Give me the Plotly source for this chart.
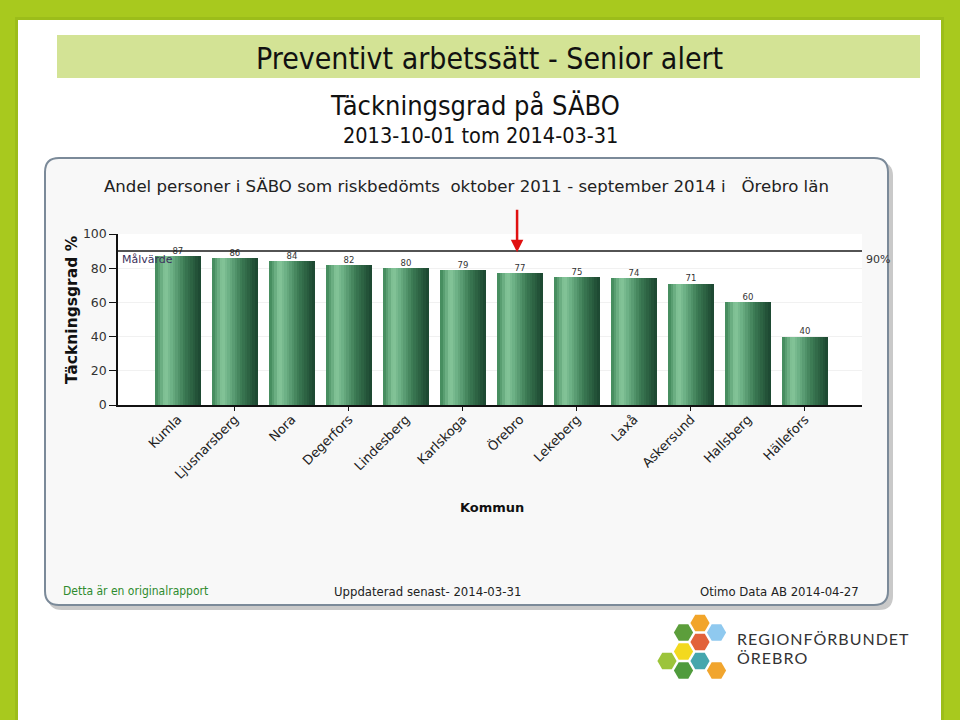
import math
import plotly.graph_objects as go

# ---------------- data ----------------
kommuner = ["Kumla", "Ljusnarsberg", "Nora", "Degerfors", "Lindesberg", "Karlskoga",
            "Örebro", "Lekeberg", "Laxå", "Askersund", "Hallsberg", "Hällefors"]
tackningsgrad = [87, 86, 84, 82, 80, 79, 77, 75, 74, 71, 60, 40]
malvarde = 90
y_ticks = [0, 20, 40, 60, 80, 100]
highlight = "Örebro"

W, H = 960, 720


def px(x):
    return x / W


def py(y):
    return 1 - y / H


def hexcolor_interp(c1, c2, t):
    a = [int(c1[i:i + 2], 16) for i in (1, 3, 5)]
    b = [int(c2[i:i + 2], 16) for i in (1, 3, 5)]
    return "#%02x%02x%02x" % tuple(round(a[k] + (b[k] - a[k]) * t) for k in range(3))


grad_stops = [(0.0, "#3e8658"), (0.22, "#86c69b"), (0.38, "#6aae83"),
              (0.65, "#3b7a53"), (1.0, "#1c4630")]


def grad(t):
    for (p0, c0), (p1, c1) in zip(grad_stops[:-1], grad_stops[1:]):
        if p0 <= t <= p1:
            return hexcolor_interp(c0, c1, (t - p0) / (p1 - p0))
    return grad_stops[-1][1]


idx = list(range(len(kommuner)))
fig = go.Figure()

# gradient bars built from thin overlaid bar stripes
N = 18
bar_w = 0.79
sw = bar_w / N
for i in range(N):
    fig.add_trace(go.Bar(
        x=idx, y=tackningsgrad, width=sw * 1.25, offset=-bar_w / 2 + i * sw,
        marker=dict(color=grad((i + 0.5) / N), line=dict(width=0)),
        hoverinfo="skip", showlegend=False))

# value labels
fig.add_trace(go.Scatter(
    x=idx, y=tackningsgrad, mode="text", text=[str(v) for v in tackningsgrad],
    textposition="top center", textfont=dict(size=8.5, color="#333333", family="DejaVu Sans"),
    showlegend=False, hoverinfo="skip"))

# invisible trace for secondary tick axis
fig.add_trace(go.Scatter(x=[0], y=[0], xaxis="x2", mode="markers",
                         marker=dict(opacity=0), showlegend=False, hoverinfo="skip"))

shapes = []


def rrect(x0, y0, x1, y1, r):
    return ("M {a},{b} L {c},{b} Q {d},{b} {d},{e} L {d},{f} Q {d},{g} {c},{g} "
            "L {a},{g} Q {h},{g} {h},{f} L {h},{e} Q {h},{b} {a},{b} Z").format(
        a=px(x0 + r), b=py(y0), c=px(x1 - r), d=px(x1), e=py(y0 + r),
        f=py(y1 - r), g=py(y1), h=px(x0))


# slide shadow + white slide
shapes.append(dict(type="rect", xref="paper", yref="paper", x0=px(15), x1=px(944),
                   y0=py(722), y1=py(17), fillcolor="#9cbd1a", line=dict(width=0), layer="below"))
shapes.append(dict(type="rect", xref="paper", yref="paper", x0=px(18), x1=px(941),
                   y0=py(721), y1=py(20), fillcolor="#ffffff", line=dict(width=0), layer="below"))
# title band
shapes.append(dict(type="rect", xref="paper", yref="paper", x0=px(57), x1=px(920),
                   y0=py(78), y1=py(35), fillcolor="#d3e395", line=dict(width=0), layer="below"))
# chart box shadow + box
shapes.append(dict(type="path", xref="paper", yref="paper", path=rrect(48, 162, 893, 610, 14),
                   fillcolor="#c9c9c9", line=dict(width=0), layer="below"))
shapes.append(dict(type="path", xref="paper", yref="paper", path=rrect(45, 158, 888, 605, 14),
                   fillcolor="#f8f8f8", line=dict(color="#7b8a99", width=2), layer="below"))
# plot area
shapes.append(dict(type="rect", xref="x domain", yref="y domain", x0=0, x1=1, y0=0, y1=1,
                   fillcolor="#ffffff", line=dict(width=0), layer="below"))
# target line
shapes.append(dict(type="line", xref="x domain", yref="y", x0=0, x1=1, y0=malvarde, y1=malvarde,
                   line=dict(color="#1a1a1a", width=1.5), layer="above"))

# logo hexagons
hex_r = 9.6
hexes = [(700, 623, "#f2a52a"), (716.5, 632.5, "#8fc9ef"), (683.5, 632.5, "#5c9e3b"),
         (700, 642, "#e2623a"), (683.5, 651.5, "#f3d91f"), (700, 661, "#45a6ad"),
         (667, 661, "#9cc43b"), (683.5, 670.5, "#4f9b3c"), (716.5, 670.5, "#f1a52e")]
for cx, cy, col in hexes:
    pts = [(cx + hex_r * math.cos(math.radians(a)), cy + hex_r * math.sin(math.radians(a)))
           for a in range(0, 360, 60)]
    path = "M " + " L ".join("%f,%f" % (px(x), py(y)) for x, y in pts) + " Z"
    shapes.append(dict(type="path", xref="paper", yref="paper", path=path,
                       fillcolor=col, line=dict(width=0), layer="below"))

ann = []
cond = "DejaVu Sans Condensed, Liberation Sans Narrow, Liberation Sans"


def txt(text, x, y, size, color="#111111", family=cond, xanchor="center", **kw):
    ann.append(dict(text=text, x=px(x), y=py(y), xref="paper", yref="paper",
                    xanchor=xanchor, yanchor="middle", showarrow=False,
                    font=dict(family=family, size=size, color=color), **kw))


txt("Preventivt arbetssätt - Senior alert", 489, 58, 30)
txt("Täckningsgrad på SÄBO", 475, 105, 27)
txt("2013-10-01 tom 2014-03-31", 480, 135, 21.5)
txt("Andel personer i SÄBO som riskbedömts\u00a0 oktober 2011 - september 2014 i\u00a0\u00a0 Örebro län",
    466, 187, 16.6, color="#222222", family="DejaVu Sans")
txt("<b>Täckningsgrad %</b>", 72, 310, 15.5, family="DejaVu Sans", textangle=-90)
txt("<b>Kommun</b>", 492, 507, 13, family="DejaVu Sans")
txt("Detta är en originalrapport", 61, 591, 12, color="#2e8b2e", xanchor="left")
txt("Uppdaterad senast- 2014-03-31", 427, 591, 13, color="#222222")
txt("Otimo Data AB 2014-04-27", 861, 591, 13, color="#222222", xanchor="right")
hs = "\u200a"
txt(hs.join("REGIONFÖRBUNDET"), 735, 638, 16, color="#333333", family="Lato", xanchor="left")
txt(hs.join("ÖREBRO"), 735, 657, 16, color="#333333", family="Lato", xanchor="left")

ann.append(dict(text="Målvärde", x=0.003, xref="x domain", y=malvarde, yref="y", xanchor="left",
                yanchor="top", showarrow=False, font=dict(family="DejaVu Sans", size=11, color="#3b2f5b")))
ann.append(dict(text="90%", x=1.003, xref="x domain", y=malvarde, yref="y", xanchor="left",
                yanchor="top", showarrow=False, font=dict(family="DejaVu Sans", size=11, color="#333333")))
# red arrow at highlighted kommun
ann.append(dict(text="", x=kommuner.index(highlight) - 0.05, y=89.3, xref="x", yref="y",
                ax=0, ay=-44, showarrow=True, arrowhead=2, arrowsize=1, arrowwidth=2.5,
                arrowcolor="#e01010"))

xr = [-1.05, 12.0]
fig.update_layout(
    width=W, height=H, margin=dict(l=0, r=0, t=0, b=0, pad=0, autoexpand=False),
    paper_bgcolor="#a8c91e", plot_bgcolor="#ffffff",
    barmode="overlay", bargap=0, showlegend=False,
    shapes=shapes, annotations=ann,
    xaxis=dict(domain=[px(118), px(862)], range=xr, tickmode="array", tickvals=idx,
               ticktext=kommuner, tickangle=-45, ticks="", showgrid=False, zeroline=False,
               showline=True, linecolor="#111111", linewidth=1.5, anchor="y", automargin=False,
               tickfont=dict(family="DejaVu Sans", size=13, color="#222222")),
    xaxis2=dict(domain=[px(118), px(862)], range=xr, overlaying="x", anchor="y", side="bottom",
                tickmode="array", tickvals=idx[1::2], ticktext=[""] * len(idx[1::2]),
                ticks="outside", ticklen=5, tickcolor="#111111", showgrid=False,
                zeroline=False, showline=False, automargin=False),
    yaxis=dict(domain=[py(405), py(234)], range=[0, 100], tickmode="array", tickvals=y_ticks,
               ticks="outside", ticklen=7, tickcolor="#111111", showline=True, automargin=False,
               linecolor="#111111", linewidth=1.5, gridcolor="#f1f1f1", zeroline=False,
               tickfont=dict(family="DejaVu Sans", size=12.5, color="#333333")),
)

fig.write_html("out.html", config={"displayModeBar": False},
               post_script="document.body.style.margin='0';")
